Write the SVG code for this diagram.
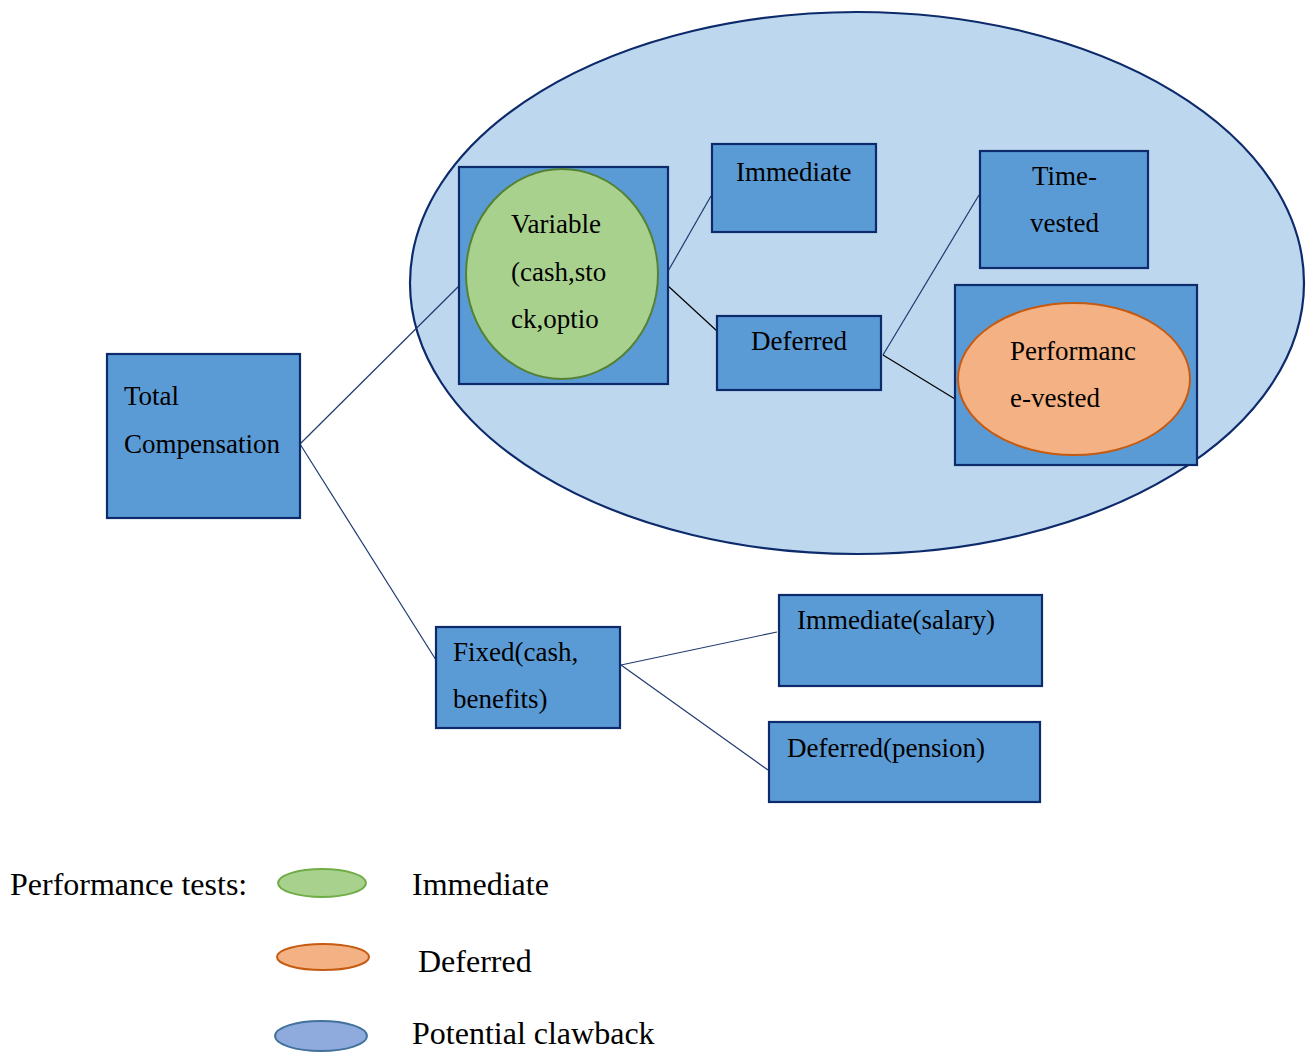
<svg xmlns="http://www.w3.org/2000/svg" width="1314" height="1052" viewBox="0 0 1314 1052">
<style>
.box{fill:#5B9BD5;stroke:#0D2B6B;stroke-width:2.2}
.t{font-family:"Liberation Serif","Times New Roman",serif;font-size:27px;fill:#000}
.lg{font-family:"Liberation Serif","Times New Roman",serif;font-size:32px;fill:#000}
.c{fill:none;stroke:#1F3A6E;stroke-width:1.2}
.cb{fill:none;stroke:#000;stroke-width:1.2}
</style>
<rect width="1314" height="1052" fill="#fff"/>
<g id="clawback-region">
<ellipse cx="857" cy="283" rx="447" ry="271" fill="#BDD7EE" stroke="#0D2B6B" stroke-width="2.2"/>
</g>
<g id="connectors">
<line class="c" x1="300" y1="444" x2="465" y2="280" stroke="#2E5C90"/>
<line class="c" x1="300" y1="444" x2="436" y2="660"/>
<line class="c" x1="663" y1="280" x2="711" y2="196"/>
<line class="cb" x1="667" y1="285" x2="717" y2="331"/>
<line class="c" x1="883" y1="355" x2="979" y2="195"/>
<line class="cb" x1="883" y1="355" x2="955" y2="399"/>
<line class="c" x1="621" y1="665" x2="777" y2="632"/>
<line class="c" x1="621" y1="665" x2="768" y2="770"/>
</g>
<g id="total">
<rect class="box" x="107" y="354" width="193" height="164"/>
<text class="t" x="124" y="405">Total</text>
<text class="t" x="124" y="453">Compensation</text>
</g>
<g id="variable">
<rect class="box" x="459" y="167" width="209" height="217"/>
<ellipse cx="562" cy="274" rx="96" ry="105" fill="#A9D18E" stroke="#548235" stroke-width="2"/>
<text class="t" x="511" y="233">Variable</text>
<text class="t" x="511" y="281">(cash,sto</text>
<text class="t" x="511" y="328">ck,optio</text>
</g>
<g id="immediate">
<rect class="box" x="712" y="144" width="164" height="88"/>
<text class="t" x="736" y="181">Immediate</text>
</g>
<g id="deferred">
<rect class="box" x="717" y="316" width="164" height="74"/>
<text class="t" x="751" y="350">Deferred</text>
</g>
<g id="time-vested">
<rect class="box" x="980" y="151" width="168" height="117"/>
<text class="t" x="1032" y="185">Time-</text>
<text class="t" x="1030" y="232">vested</text>
</g>
<g id="performance-vested">
<rect class="box" x="955" y="285" width="242" height="180"/>
<ellipse cx="1074" cy="379" rx="116" ry="76" fill="#F4B183" stroke="#C55A11" stroke-width="2"/>
<text class="t" x="1010" y="360">Performanc</text>
<text class="t" x="1010" y="407">e-vested</text>
</g>
<g id="fixed">
<rect class="box" x="436" y="627" width="184" height="101"/>
<text class="t" x="453" y="661">Fixed(cash,</text>
<text class="t" x="453" y="708">benefits)</text>
</g>
<g id="immediate-salary">
<rect class="box" x="779" y="595" width="263" height="91"/>
<text class="t" x="797" y="629">Immediate(salary)</text>
</g>
<g id="deferred-pension">
<rect class="box" x="769" y="722" width="271" height="80"/>
<text class="t" x="787" y="757">Deferred(pension)</text>
</g>
<g id="legend">
<text class="lg" x="10" y="895">Performance tests:</text>
<ellipse cx="322" cy="883" rx="44" ry="14" fill="#A9D18E" stroke="#70AD47" stroke-width="2"/>
<text class="lg" x="412" y="895">Immediate</text>
<ellipse cx="323" cy="957" rx="46" ry="13" fill="#F4B183" stroke="#C55A11" stroke-width="2"/>
<text class="lg" x="418" y="972">Deferred</text>
<ellipse cx="321" cy="1036" rx="46" ry="15" fill="#8FAADC" stroke="#41719C" stroke-width="2"/>
<text class="lg" x="412" y="1044">Potential clawback</text>
</g>
</svg>
